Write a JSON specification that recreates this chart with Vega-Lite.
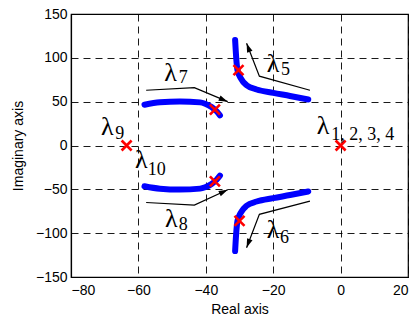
{
  "$schema": "https://vega.github.io/schema/vega-lite/v6.json",
  "width": 337,
  "height": 263,
  "autosize": {"type": "none"},
  "padding": {"left": 71, "top": 14, "right": 7, "bottom": 43},
  "background": "white",
  "config": {
    "view": {"stroke": "black", "strokeWidth": 1.2},
    "axis": {
      "domainColor": "black",
      "domainWidth": 1.2,
      "ticks": false,
      "grid": true,
      "gridColor": "black",
      "gridDash": [7, 5],
      "gridWidth": 0.9,
      "gridOpacity": 1,
      "labelFont": "Liberation Sans",
      "labelFontSize": 14,
      "labelColor": "black",
      "titleFont": "Liberation Sans",
      "titleFontSize": 14,
      "titleFontWeight": "normal",
      "titleColor": "black"
    }
  },
  "datasets": {
    "curves": [
      {"c": "l5", "i": 1, "x": -31.3, "y": 120.4},
      {"c": "l5", "i": 2, "x": -31.0, "y": 101.3},
      {"c": "l5", "i": 3, "x": -30.6, "y": 86},
      {"c": "l5", "i": 4, "x": -29.6, "y": 76.5},
      {"c": "l5", "i": 5, "x": -27.9, "y": 68.8},
      {"c": "l5", "i": 6, "x": -24.9, "y": 63.9},
      {"c": "l5", "i": 7, "x": -20.0, "y": 60},
      {"c": "l5", "i": 8, "x": -15.0, "y": 56.5},
      {"c": "l5", "i": 9, "x": -9.6, "y": 52.4},
      {"c": "l6", "i": 1, "x": -31.3, "y": -120.4},
      {"c": "l6", "i": 2, "x": -31.0, "y": -101.3},
      {"c": "l6", "i": 3, "x": -30.6, "y": -86},
      {"c": "l6", "i": 4, "x": -29.6, "y": -76.5},
      {"c": "l6", "i": 5, "x": -27.9, "y": -68.8},
      {"c": "l6", "i": 6, "x": -24.9, "y": -63.9},
      {"c": "l6", "i": 7, "x": -20.0, "y": -60},
      {"c": "l6", "i": 8, "x": -15.0, "y": -56.5},
      {"c": "l6", "i": 9, "x": -9.6, "y": -52.4},
      {"c": "l7", "i": 1, "x": -58.2, "y": 46.5},
      {"c": "l7", "i": 2, "x": -53.6, "y": 49.3},
      {"c": "l7", "i": 3, "x": -47.7, "y": 50.3},
      {"c": "l7", "i": 4, "x": -41.7, "y": 49.2},
      {"c": "l7", "i": 5, "x": -40.2, "y": 47.6},
      {"c": "l7", "i": 6, "x": -38.3, "y": 43.9},
      {"c": "l7", "i": 7, "x": -36.8, "y": 39},
      {"c": "l7", "i": 8, "x": -35.8, "y": 34.4},
      {"c": "l8", "i": 1, "x": -58.2, "y": -46.5},
      {"c": "l8", "i": 2, "x": -53.6, "y": -49.3},
      {"c": "l8", "i": 3, "x": -47.7, "y": -50.3},
      {"c": "l8", "i": 4, "x": -41.7, "y": -49.2},
      {"c": "l8", "i": 5, "x": -40.2, "y": -47.6},
      {"c": "l8", "i": 6, "x": -38.3, "y": -43.9},
      {"c": "l8", "i": 7, "x": -36.8, "y": -39},
      {"c": "l8", "i": 8, "x": -35.8, "y": -34.4}
    ],
    "ann": [
      {"g": "a7", "i": 1, "x": -57.7, "y": 63},
      {"g": "a7", "i": 2, "x": -43.4, "y": 66},
      {"g": "a7", "i": 3, "x": -33.5, "y": 50},
      {"g": "a8", "i": 1, "x": -57.7, "y": -65},
      {"g": "a8", "i": 2, "x": -43.4, "y": -68},
      {"g": "a8", "i": 3, "x": -33.5, "y": -50.5},
      {"g": "a5", "i": 1, "x": -9.1, "y": 63},
      {"g": "a5", "i": 2, "x": -24.1, "y": 79.1},
      {"g": "a5", "i": 3, "x": -27.9, "y": 116.6},
      {"g": "a6", "i": 1, "x": -9.1, "y": -63.5},
      {"g": "a6", "i": 2, "x": -24.1, "y": -78.5},
      {"g": "a6", "i": 3, "x": -27.9, "y": -116.6}
    ],
    "heads": [
      {"x": -33.5, "y": 50, "dir": 113},
      {"x": -33.5, "y": -50.5, "dir": 65},
      {"x": -27.9, "y": 116.6, "dir": 339},
      {"x": -27.9, "y": -116.6, "dir": 201}
    ],
    "poles": [
      {"x": 0, "y": 0},
      {"x": -63.5, "y": 0},
      {"x": -37.3, "y": 41},
      {"x": -37.3, "y": -41},
      {"x": -30.3, "y": 86},
      {"x": -30.0, "y": -86}
    ],
    "labels": [
      {"kind": "main", "text": "λ", "x": -52.3, "y": 73.6},
      {"kind": "sub", "text": "7", "x": -48.0, "y": 70.9},
      {"kind": "main", "text": "λ", "x": -21.9, "y": 83.8},
      {"kind": "sub", "text": "5", "x": -17.7, "y": 80.4},
      {"kind": "main", "text": "λ", "x": -21.9, "y": -105.5},
      {"kind": "sub", "text": "6", "x": -18.0, "y": -111.2},
      {"kind": "main", "text": "λ", "x": -52.1, "y": -93},
      {"kind": "sub", "text": "8", "x": -48.0, "y": -96.5},
      {"kind": "main", "text": "λ", "x": -71.1, "y": 12},
      {"kind": "sub", "text": "9", "x": -66.9, "y": 7.4},
      {"kind": "main", "text": "λ", "x": -61.0, "y": -25.7},
      {"kind": "sub", "text": "10", "x": -57.2, "y": -33.6},
      {"kind": "main", "text": "λ", "x": -7.1, "y": 13.1},
      {"kind": "sub", "text": "1, 2, 3, 4", "x": -2.8, "y": 6.8}
    ]
  },
  "layer": [
    {
      "data": {"name": "curves"},
      "mark": {"type": "line", "color": "#0000ff", "strokeWidth": 6, "strokeCap": "round", "strokeJoin": "round", "interpolate": "monotone"},
      "encoding": {
        "x": {"field": "x", "type": "quantitative", "scale": {"domain": [-80, 20], "nice": false}, "axis": {"values": [-80, -60, -40, -20, 0, 20], "title": "Real axis", "labelPadding": 6, "titlePadding": 5}},
        "y": {"field": "y", "type": "quantitative", "scale": {"domain": [-150, 150], "nice": false}, "axis": {"values": [-150, -100, -50, 0, 50, 100, 150], "title": "Imaginary axis", "labelPadding": 4, "titlePadding": 10}},
        "detail": {"field": "c"},
        "order": {"field": "i", "type": "quantitative"}
      }
    },
    {
      "data": {"name": "ann"},
      "mark": {"type": "line", "color": "black", "strokeWidth": 1.2},
      "encoding": {
        "x": {"field": "x", "type": "quantitative"},
        "y": {"field": "y", "type": "quantitative"},
        "detail": {"field": "g"},
        "order": {"field": "i", "type": "quantitative"}
      }
    },
    {
      "data": {"name": "heads"},
      "mark": {"type": "point", "shape": "M0,0L-0.32,1L0.32,1Z", "filled": true, "color": "black", "size": 324, "opacity": 1},
      "encoding": {
        "x": {"field": "x", "type": "quantitative"},
        "y": {"field": "y", "type": "quantitative"},
        "angle": {"field": "dir", "type": "quantitative", "scale": null}
      }
    },
    {
      "data": {"name": "poles"},
      "mark": {"type": "point", "shape": "M-1,-1L1,1M-1,1L1,-1", "filled": false, "stroke": "red", "strokeWidth": 2.6, "size": 100, "opacity": 1},
      "encoding": {
        "x": {"field": "x", "type": "quantitative"},
        "y": {"field": "y", "type": "quantitative"}
      }
    },
    {
      "data": {"name": "labels"},
      "transform": [{"filter": "datum.kind === 'main'"}],
      "mark": {"type": "text", "font": "Liberation Serif", "fontSize": 26, "align": "left", "baseline": "alphabetic", "color": "black"},
      "encoding": {
        "x": {"field": "x", "type": "quantitative"},
        "y": {"field": "y", "type": "quantitative"},
        "text": {"field": "text"}
      }
    },
    {
      "data": {"name": "labels"},
      "transform": [{"filter": "datum.kind === 'sub'"}],
      "mark": {"type": "text", "font": "Liberation Serif", "fontSize": 18, "align": "left", "baseline": "alphabetic", "color": "black"},
      "encoding": {
        "x": {"field": "x", "type": "quantitative"},
        "y": {"field": "y", "type": "quantitative"},
        "text": {"field": "text"}
      }
    }
  ]
}
